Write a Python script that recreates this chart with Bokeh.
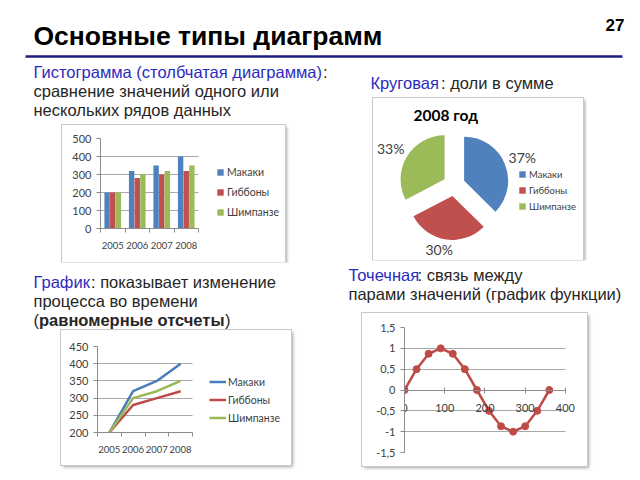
import math
from bokeh.plotting import figure
from bokeh.layouts import column, row
from bokeh.models import (Spacer, Range1d, Label, ColumnDataSource, FixedTicker,
                          CustomJSTickFormatter, Legend, LegendItem, Grid)
from bokeh.transform import dodge
from bokeh.core.properties import value
from bokeh.embed import file_html
from bokeh.resources import INLINE

# ---------------- data ----------------
years = ["2005", "2006", "2007", "2008"]
series_names = ["Макаки", "Гиббоны", "Шимпанзе"]
makaki = [200, 320, 350, 400]
gibbony = [200, 280, 300, 320]
shimpanze = [200, 300, 320, 350]
bar_ticks = [0, 100, 200, 300, 400, 500]
line_ticks = [200, 250, 300, 350, 400, 450]
pie_title = "2008 год"
sin_x = [0, 30, 60, 90, 120, 150, 180, 210, 240, 270, 300, 330, 360]
sin_y = [0, 0.5, 0.87, 1, 0.87, 0.5, 0, -0.5, -0.87, -1, -0.87, -0.5, 0]
sc_xticks = [0, 100, 200, 300, 400]
sc_yticks = [-1.5, -1, -0.5, 0, 0.5, 1, 1.5]

# ---------------- styles ----------------
COLORS = ["#4F81BD", "#C0504D", "#9BBB59"]
LINE_COLORS = ["#4A7EBB", "#BE4B48", "#98B954"]
TXT = "#262626"
BLUE_TXT = "#2B2BBE"
AX = "#8C8C8C"
GRID = "#A8A8A8"
SLIDE_FONT = "Liberation Sans"
CH_FONT = "Lato"
BODY = 16.5
BOX = {"box-shadow": "0 0 0 1px #c8c8c8, 2px 2px 3px rgba(0,0,0,0.35)"}
HAS_CROSS = "cross_bounds" in Grid.properties()

n_cat = len(years)
centers = [i + 0.5 for i in range(n_cat)]       # category slots on a numeric axis
cat_edges = [i for i in range(n_cat + 1)]


def canvas(x0, x1, y0, y1):
    p = figure(width=x1 - x0, height=y1 - y0, x_range=Range1d(x0, x1),
               y_range=Range1d(y1, y0), x_axis_location=None, y_axis_location=None,
               toolbar_location=None, output_backend="svg", min_border=0,
               outline_line_color=None)
    p.grid.visible = False
    return p


def put(p, x, base, s, color=TXT, bold=False, size=BODY, font=SLIDE_FONT):
    # vertical position given by the text baseline; drawn centred on the em box
    p.add_layout(Label(x=x, y=base - 0.3465 * size, text=s, text_color=color,
                       text_font=font, text_font_size="%.1fpx" % size,
                       text_font_style="bold" if bold else "normal",
                       text_baseline="middle"))


def style_axes(p):
    for ax in p.axis:
        ax.axis_line_color = AX
        ax.major_tick_line_color = AX
        ax.minor_tick_line_color = None
        ax.major_label_text_font = CH_FONT
        ax.major_label_text_font_size = "11px"
        ax.major_label_text_color = "#404040"
        ax.major_tick_out = 4
        ax.major_tick_in = 0
    p.xgrid.visible = False
    p.ygrid.grid_line_color = GRID


def category_axis(p):
    ax = p.xaxis[0]
    ax.ticker = FixedTicker(ticks=centers, minor_ticks=cat_edges)
    ax.formatter = CustomJSTickFormatter(args=dict(labels=years),
                                         code="return labels[Math.floor(tick)] || '';")
    ax.major_tick_line_color = None
    ax.minor_tick_line_color = AX
    ax.minor_tick_out = 4
    ax.minor_tick_in = 0
    ax.major_label_standoff = 9
    ax.major_label_text_font_size = "9.5px"
    ax.bounds = (0, n_cat)
    if HAS_CROSS:
        p.ygrid.cross_bounds = (0, n_cat)


def make_legend(items, loc, gw, gh, lh, sp, so, size):
    return Legend(items=items, location=loc, padding=0, margin=0, border_line_color=None,
                  background_fill_alpha=0, glyph_width=gw, glyph_height=gh, label_height=lh,
                  spacing=sp, label_standoff=so, label_text_font=CH_FONT,
                  label_text_font_size=size, label_text_color="#404040")


# ---------------- header ----------------
head = canvas(0, 640, 0, 62)
put(head, 33, 45, "Основные типы диаграмм", color="#000000", bold=True, size=26.5)
put(head, 605, 30, "27", color="#000000", bold=True, size=17)
head.line([25, 622], [56, 56], line_color="#1C1C80", line_width=2.5)

# ---------------- left texts ----------------
tl1 = canvas(0, 340, 62, 125)
put(tl1, 33, 77, "Гистограмма (столбчатая диаграмма)", color=BLUE_TXT)
put(tl1, 322.5, 77, ":")
put(tl1, 33, 96, "сравнение значений одного или")
put(tl1, 33, 115, "нескольких рядов данных")

tl2 = canvas(0, 340, 262, 330)
put(tl2, 33, 287, "График", color=BLUE_TXT)
put(tl2, 90.5, 287, ": показывает изменение")
put(tl2, 33, 306, "процесса во времени")
put(tl2, 33, 325, "(")
put(tl2, 38.5, 325, "равномерные отсчеты", bold=True)
put(tl2, 224.5, 325, ")")

# ---------------- right texts ----------------
tr1 = canvas(340, 640, 62, 98)
put(tr1, 370, 88, "Круговая", color=BLUE_TXT)
put(tr1, 440.5, 88, ": доли в сумме")

tr2 = canvas(340, 640, 260, 313)
put(tr2, 348, 280, "Точечная", color=BLUE_TXT)
put(tr2, 417, 280, ": связь между")
put(tr2, 348, 299, "парами значений (график функции)")

# ---------------- bar chart ----------------
src = ColumnDataSource(dict(x=centers, m=makaki, g=gibbony, s=shimpanze))
BAR_W, BAR_L, BAR_R = 223, 38, 2
bar_frame = BAR_W - BAR_L - BAR_R
bar = figure(width=BAR_W, height=137, x_range=Range1d(0, n_cat * bar_frame / 98.0),
             y_range=Range1d(0, 500), toolbar_location=None, output_backend="svg",
             min_border_left=BAR_L, min_border_right=BAR_R, min_border_top=13,
             min_border_bottom=34, outline_line_color=None, styles=BOX)
bar_items = []
for key, off, col, name in zip(["m", "g", "s"], [-0.23, 0, 0.23], COLORS, series_names):
    r = bar.vbar(x=dodge("x", off), top=key, width=0.22, source=src,
                 fill_color=col, line_color=None)
    bar_items.append(LegendItem(label=name, renderers=[r]))
style_axes(bar)
bar.yaxis.ticker = bar_ticks
category_axis(bar)
bar.add_layout(make_legend(bar_items, (116, 9), 8, 8, 14, 6, 3, "10.5px"))

# ---------------- line chart ----------------
lsrc = ColumnDataSource(dict(x=centers, m=makaki, g=gibbony, s=shimpanze))
LN_W, LN_L, LN_R = 230, 36, 2
ln_frame = LN_W - LN_L - LN_R
ln = figure(width=LN_W, height=135, x_range=Range1d(0, n_cat * ln_frame / 95.0),
            y_range=Range1d(200, 450), toolbar_location=None, output_backend="svg",
            min_border_left=LN_L, min_border_right=LN_R, min_border_top=16,
            min_border_bottom=33, outline_line_color=None, styles=BOX)
ln_items = []
for key, col, name in zip(["m", "g", "s"], LINE_COLORS, series_names):
    r = ln.line(x="x", y=key, source=lsrc, line_color=col, line_width=2.5)
    ln_items.append(LegendItem(label=name, renderers=[r]))
style_axes(ln)
ln.yaxis.ticker = line_ticks
category_axis(ln)
ln.add_layout(make_legend(ln_items, (112, 8), 17, 13, 13, 5, 2, "10.5px"))

# ---------------- pie chart ----------------
pie_vals = [makaki[-1], gibbony[-1], shimpanze[-1]]
total = sum(pie_vals)
R, D = 44, 11
cum = 0.0
px, py, st, en, lx, ly, pct = [], [], [], [], [], [], []
for v in pie_vals:
    f = v / total
    a0 = math.pi / 2 - cum * 2 * math.pi
    a1 = math.pi / 2 - (cum + f) * 2 * math.pi
    mid = (a0 + a1) / 2
    px.append(D * math.cos(mid))
    py.append(D * math.sin(mid))
    st.append(a1)
    en.append(a0)
    lx.append(74 * math.cos(mid) - (4 if abs(math.cos(mid)) < 0.3 else 0))
    ly.append(67 * math.sin(mid) + 2)
    pct.append("%d%%" % round(f * 100))
    cum += f
psrc = ColumnDataSource(dict(x=px, y=py, start=st, end=en, color=COLORS, name=series_names))
pie = figure(width=210, height=162, x_range=Range1d(-80.5, 129.5), y_range=Range1d(-75.5, 86.5),
             x_axis_location=None, y_axis_location=None, toolbar_location=None,
             output_backend="svg", min_border=0, outline_line_color=None, styles=BOX)
pie.grid.visible = False
wr = pie.wedge(x="x", y="y", radius=R, start_angle="start", end_angle="end",
               direction="anticlock", fill_color="color", line_color=None, source=psrc)
pie.text(x=lx, y=ly, text=pct, text_align="center", text_baseline="middle",
         text_font=value(CH_FONT), text_font_size="14px", text_color="#404040")
pie.add_layout(Label(x=-40.5, y=70.5, text=pie_title, text_font=CH_FONT, text_font_size="15.5px",
                     text_font_style="bold", text_color="#000000", text_baseline="middle"))
pie_items = [LegendItem(label=n, renderers=[wr], index=i) for i, n in enumerate(series_names)]
pie.add_layout(make_legend(pie_items, (145, 48), 8, 8, 12, 4, 3, "9.5px"))

# ---------------- scatter ----------------
sc = figure(width=225, height=153, x_range=Range1d(0, 440), y_range=Range1d(-1.5, 1.5),
            toolbar_location=None, output_backend="svg", min_border_left=42,
            min_border_right=6, min_border_top=14, min_border_bottom=14,
            outline_line_color=None, styles=BOX)
sc.line(sin_x, sin_y, line_color=LINE_COLORS[1], line_width=2.5)
sc.scatter(sin_x, sin_y, size=7, fill_color=LINE_COLORS[1], line_color=LINE_COLORS[1])
style_axes(sc)
sc.xaxis.fixed_location = 0
sc.xaxis.ticker = sc_xticks
sc.xaxis.bounds = (sc_xticks[0], sc_xticks[-1])
sc.yaxis.ticker = sc_yticks
sc.xaxis.major_tick_in = 3
sc.xaxis.major_tick_out = 3
sc.xaxis.major_label_standoff = 11
sc.yaxis.formatter = CustomJSTickFormatter(code="return String(tick).replace('.', ',');")
if HAS_CROSS:
    sc.ygrid.cross_bounds = (sc_xticks[0], sc_xticks[-1])

# ---------------- layout ----------------
left = column(tl1, row(Spacer(width=62, height=137), bar), tl2,
              row(Spacer(width=61, height=135), ln), Spacer(width=340, height=15))
right = column(tr1, row(Spacer(width=33, height=162), pie), tr2,
               row(Spacer(width=22, height=153), sc), Spacer(width=300, height=14))
page = column(head, row(left, right))

open("out.html", "w").write(file_html(page, INLINE))
